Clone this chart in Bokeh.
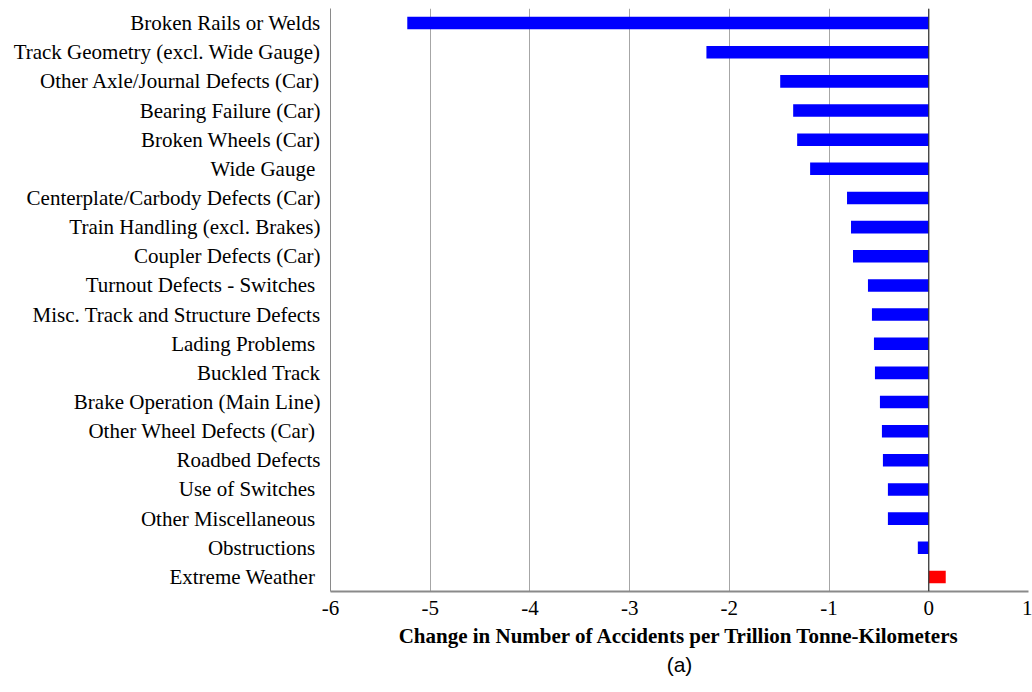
from bokeh.plotting import figure
from bokeh.models import ColumnDataSource, FactorRange, Range1d, Span, Title, FixedTicker
from bokeh.embed import file_html
from bokeh.resources import INLINE

NBSP = "\u00a0"

# Accident causes, listed top to bottom as drawn
causes = [
    "Broken Rails or Welds",
    "Track Geometry (excl. Wide Gauge)",
    "Other Axle/Journal Defects (Car)",
    "Bearing Failure (Car)",
    "Broken Wheels (Car)",
    "Wide Gauge" + NBSP,
    "Centerplate/Carbody Defects (Car)",
    "Train Handling (excl. Brakes)",
    "Coupler Defects (Car)",
    "Turnout Defects - Switches" + NBSP,
    "Misc. Track and Structure Defects",
    "Lading Problems" + NBSP,
    "Buckled Track",
    "Brake Operation (Main Line)",
    "Other Wheel Defects (Car)" + NBSP,
    "Roadbed Defects",
    "Use of Switches" + NBSP,
    "Other Miscellaneous" + NBSP,
    "Obstructions" + NBSP,
    "Extreme Weather" + NBSP,
]

# Change in accidents per trillion tonne-km
change = [
    -5.23, -2.23, -1.49, -1.36, -1.32, -1.19, -0.82, -0.78, -0.76, -0.61,
    -0.57, -0.55, -0.54, -0.49, -0.47, -0.46, -0.41, -0.41, -0.11, 0.17,
]

x_ticks = [-6, -5, -4, -3, -2, -1, 0, 1]
x_tick_labels = ["-6", "-5", "-4", "-3", "-2", "-1", "0", "1"]

colors = ["#0000ff" if v < 0 else "#ff0000" for v in change]

source = ColumnDataSource(dict(cause=causes, change=change, color=colors))

FONT = "Liberation Serif"
SIZE = "21px"

p = figure(
    width=1032,
    height=692,
    y_range=FactorRange(factors=causes[::-1], range_padding=0),
    x_range=Range1d(-6, 1),
    output_backend="svg",
    toolbar_location=None,
    min_border_left=330,
    min_border_right=4,
    min_border_top=8,
    min_border_bottom=101,
)
p.outline_line_color = None
p.background_fill_color = "white"
p.border_fill_color = "white"

p.hbar(y="cause", left=0, right="change", height=0.43, color="color",
       line_color=None, source=source)

# Dark reference line at zero
p.add_layout(Span(location=0, dimension="height", line_color="#333333",
                  line_width=1.2, level="overlay"))

# x axis
p.xaxis.ticker = FixedTicker(ticks=x_ticks)
p.xaxis.major_label_overrides = dict(zip(x_ticks, x_tick_labels))
p.xaxis.axis_label = "Change in Number of Accidents per Trillion Tonne-Kilometers"
p.xaxis.axis_label_text_font = FONT
p.xaxis.axis_label_text_font_style = "bold"
p.xaxis.axis_label_text_font_size = SIZE
p.xaxis.axis_label_text_color = "black"
p.xaxis.axis_label_standoff = 6
p.xaxis.major_label_text_font = FONT
p.xaxis.major_label_text_font_size = SIZE
p.xaxis.major_label_text_color = "black"
p.xaxis.major_label_standoff = 9
p.xaxis.axis_line_color = "#8a8a8a"
p.xaxis.axis_line_width = 2
p.xaxis.major_tick_in = 0
p.xaxis.major_tick_out = 0
p.xaxis.minor_tick_line_color = None

# y axis with cause names
p.yaxis.major_label_text_font = FONT
p.yaxis.major_label_text_font_size = SIZE
p.yaxis.major_label_text_color = "black"
p.yaxis.major_label_standoff = 10
p.yaxis.axis_line_color = "#8a8a8a"
p.yaxis.axis_line_width = 1
p.yaxis.major_tick_in = 0
p.yaxis.major_tick_out = 0

p.xgrid.grid_line_color = "#a6a6a6"
p.xgrid.grid_line_width = 1
p.ygrid.grid_line_color = None

# Panel caption under the axis title
p.add_layout(Title(text="(a)", align="center", text_font="Liberation Sans",
                   text_font_size="21px", text_font_style="normal",
                   text_color="black", standoff=0, offset=0), "below")

open("out.html", "w").write(file_html(p, INLINE))
